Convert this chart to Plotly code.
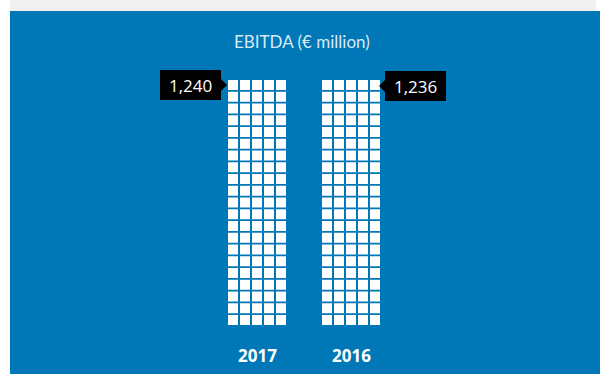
import plotly.graph_objects as go

# ---- data ----
years = ["2017", "2016"]
ebitda = [1240, 1236]          # € million
cells = [105, 105]             # waffle squares per column
title_text = "EBITDA (€ million)"

# ---- layout constants ----
W, H = 600, 374
BLUE = "#0077B6"
GRAY = "#F0F0F0"
COLS = 5
PITCH_X = 12
PITCH_Y = 11.75
CELL = 10
BOTTOM_CENTER = 320          # y of centre of bottom row
FIRST_CENTER = 257           # x centre of first group
GROUP_GAP = 94

fig = go.Figure()

for i, (yr, n) in enumerate(zip(years, cells)):
    gx = FIRST_CENTER + i * GROUP_GAP
    xs, ys = [], []
    for k in range(n):
        r, c = divmod(k, COLS)
        xs.append(gx + (c - (COLS - 1) / 2) * PITCH_X)
        ys.append(BOTTOM_CENTER - r * PITCH_Y)
    fig.add_trace(go.Scatter(
        x=xs, y=ys, mode="markers",
        marker=dict(symbol="square", size=CELL, color="white", line=dict(width=0)),
        hoverinfo="skip", showlegend=False))

shapes = [
    dict(type="rect", xref="x", yref="y", x0=10, x1=596, y0=0, y1=11,
         fillcolor=GRAY, line=dict(width=0), layer="below"),
    dict(type="rect", xref="x", yref="y", x0=10, x1=600, y0=11, y1=H,
         fillcolor=BLUE, line=dict(width=0), layer="below"),
]

annotations = [
    dict(x=302, y=41, xref="x", yref="y", text=title_text, showarrow=False,
         font=dict(family="Lato, Open Sans, sans-serif", size=17, color="#D8EAF5")),
]

# value labels
top_row = [BOTTOM_CENTER - ((n - 1) // COLS) * PITCH_Y for n in cells]
for i, (v, n) in enumerate(zip(ebitda, cells)):
    gx = FIRST_CENTER + i * GROUP_GAP
    half = (COLS - 1) / 2 * PITCH_X + CELL / 2
    ty = top_row[i] + (0 if i == 0 else 1)
    txt = f"{v:,}"
    if i == 0:
        tip = gx - half - 1
        bx1 = tip - 6
        bx0 = bx1 - 61
        tri = f"M {bx1} {ty-6} L {tip} {ty} L {bx1} {ty+6} Z"
    else:
        tip = gx + half - 1
        bx0 = tip + 6
        bx1 = bx0 + 61
        tri = f"M {bx0} {ty-6} L {tip} {ty} L {bx0} {ty+6} Z"
    shapes.append(dict(type="rect", xref="x", yref="y", x0=bx0, x1=bx1,
                       y0=ty - 15, y1=ty + 15, fillcolor="black", line=dict(width=0)))
    shapes.append(dict(type="path", xref="x", yref="y", path=tri,
                       fillcolor="black", line=dict(width=0)))
    annotations.append(dict(x=(bx0 + bx1) / 2, y=ty, xref="x", yref="y", text=txt,
                            showarrow=False,
                            font=dict(family="Open Sans, sans-serif", size=17, color="white")))
    annotations.append(dict(x=gx, y=355, xref="x", yref="y", text=f"<b>{years[i]}</b>",
                            showarrow=False,
                            font=dict(family="Open Sans, sans-serif", size=17, color="white")))

fig.update_layout(
    width=W, height=H,
    margin=dict(l=0, r=0, t=0, b=0),
    paper_bgcolor="white", plot_bgcolor="white",
    xaxis=dict(range=[0, W], visible=False, fixedrange=True),
    yaxis=dict(range=[H, 0], visible=False, fixedrange=True),
    shapes=shapes, annotations=annotations,
)

fig.write_html("out.html")
